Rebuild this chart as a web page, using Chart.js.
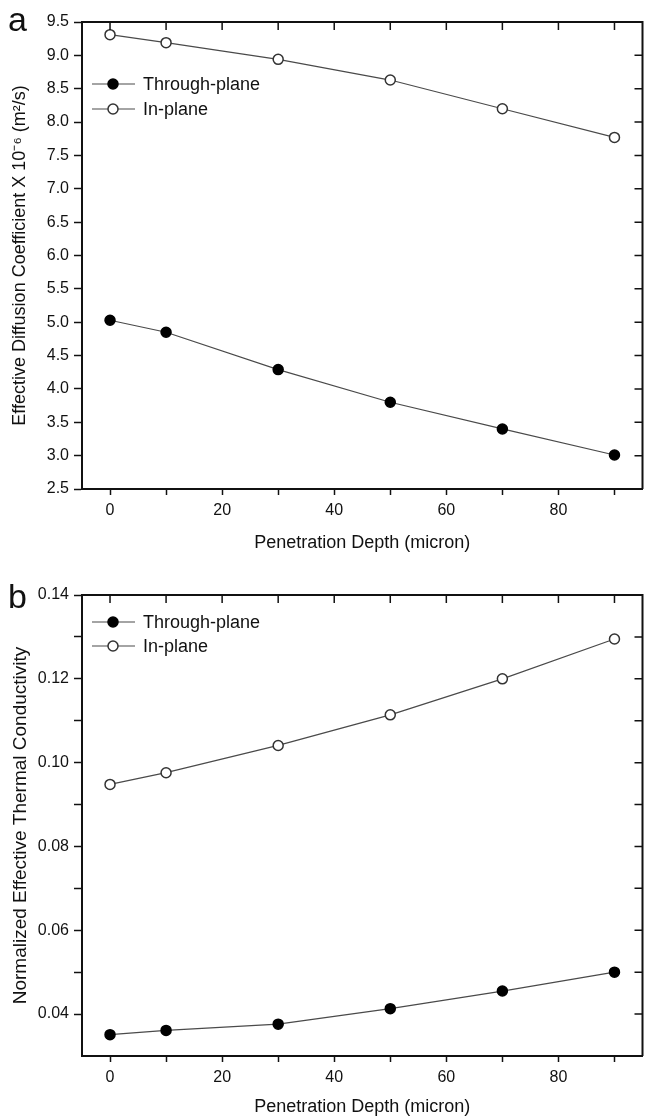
<!DOCTYPE html>
<html>
<head>
<meta charset="utf-8">
<script src="https://cdn.jsdelivr.net/npm/chart.js@4/dist/chart.umd.min.js"></script>
<style>
  body { margin: 0; background: #fff; }
  .panel { position: absolute; left: 0; width: 649px; }
  .tag { position: absolute; left: 8px; font: 34px/34px "Liberation Sans", Arial, sans-serif; color: #111; }
</style>
</head>
<body>
<div class="panel" style="top:0;height:556px"><canvas id="diffusionChart"></canvas></div>
<div class="panel" style="top:556px;height:560px"><canvas id="conductivityChart"></canvas></div>
<div class="tag" style="top:2px">a</div>
<div class="tag" style="top:579px">b</div>
<script>
// penetration depth of the coating, micron
const depth = [0, 10, 30, 50, 70, 90];

// effective diffusion coefficient, x 10^-6 m2/s
const diffThrough = [5.03, 4.85, 4.29, 3.80, 3.40, 3.01];
const diffIn = [9.31, 9.19, 8.94, 8.63, 8.20, 7.77];

// normalized effective thermal conductivity
const condThrough = [0.0351, 0.0361, 0.0376, 0.0413, 0.0455, 0.0500];
const condIn = [0.0948, 0.0976, 0.1041, 0.1114, 0.1200, 0.1295];

// tick positions
const depthTicks = [0, 10, 20, 30, 40, 50, 60, 70, 80, 90];
const diffTicks = [3.0, 3.5, 4.0, 4.5, 5.0, 5.5, 6.0, 6.5, 7.0, 7.5, 8.0, 8.5, 9.0];
const condTicks = [0.04, 0.05, 0.06, 0.07, 0.08, 0.09, 0.10, 0.11, 0.12, 0.13];

const FONT = '"Liberation Sans", Arial, sans-serif';
const INK = '#111';

// closes the frame on top/right and puts inward ticks there
const boxPlugin = {
    id: 'box',
    afterDraw(chart, args, opts) {
        const { ctx, chartArea: a, scales } = chart;
        ctx.save();
        ctx.strokeStyle = INK;
        ctx.lineWidth = 2;
        ctx.beginPath();
        ctx.moveTo(a.left, a.top);
        ctx.lineTo(a.right, a.top);
        ctx.lineTo(a.right, a.bottom);
        ctx.stroke();

        ctx.lineWidth = 1.5;
        ctx.beginPath();
        opts.xTicks.forEach(v => {
            const x = scales.x.getPixelForValue(v);
            ctx.moveTo(x, a.top);
            ctx.lineTo(x, a.top + 8);
        });
        opts.yTicks.forEach(v => {
            const y = scales.y.getPixelForValue(v);
            ctx.moveTo(a.right, y);
            ctx.lineTo(a.right - 8, y);
        });
        ctx.stroke();
        ctx.restore();
    }
};

// legend drawn inside the plot, marker sitting on a short line
const inlineLegend = {
    id: 'inlineLegend',
    afterDatasetsDraw(chart, args, opts) {
        const { ctx, chartArea: a } = chart;
        ctx.save();
        chart.data.datasets.forEach((ds, i) => {
            const y = a.top + opts.rows[i];
            const x0 = a.left + 10;
            ctx.strokeStyle = ds.borderColor;
            ctx.lineWidth = ds.borderWidth;
            ctx.beginPath();
            ctx.moveTo(x0, y);
            ctx.lineTo(x0 + 43, y);
            ctx.stroke();

            ctx.beginPath();
            ctx.arc(x0 + 21, y, ds.pointRadius, 0, Math.PI * 2);
            ctx.fillStyle = ds.pointBackgroundColor;
            ctx.fill();
            ctx.lineWidth = ds.pointBorderWidth;
            ctx.strokeStyle = ds.pointBorderColor;
            ctx.stroke();

            ctx.fillStyle = INK;
            ctx.font = `18px ${FONT}`;
            ctx.textBaseline = 'middle';
            ctx.fillText(ds.label, x0 + 51, y + 1);
        });
        ctx.restore();
    }
};

function series(label, values, filled) {
    return {
        label,
        data: depth.map((d, i) => ({ x: d, y: values[i] })),
        borderColor: '#4a4a4a',
        borderWidth: 1.2,
        pointRadius: 5,
        pointBackgroundColor: filled ? '#000' : '#fff',
        pointBorderColor: filled ? '#000' : '#333',
        pointBorderWidth: 1.5,
        tension: 0
    };
}

function makePanel(id, cfg) {
    return new Chart(document.getElementById(id), {
        type: 'line',
        data: {
            datasets: [
                series('Through-plane', cfg.through, true),
                series('In-plane', cfg.inPlane, false)
            ]
        },
        options: {
            responsive: true,
            maintainAspectRatio: false,
            animation: false,
            layout: { padding: cfg.padding },
            plugins: {
                legend: { display: false },
                tooltip: { enabled: false },
                box: { xTicks: depthTicks, yTicks: cfg.yTicks },
                inlineLegend: { rows: cfg.legendRows }
            },
            scales: {
                x: {
                    type: 'linear',
                    min: -5,
                    max: 95,
                    afterBuildTicks: s => { s.ticks = depthTicks.map(v => ({ value: v })); },
                    afterFit: s => { s.height = cfg.xHeight; },
                    grid: { drawOnChartArea: false, tickLength: 6, tickColor: INK, tickWidth: 1.5 },
                    border: { display: true, color: INK, width: 2 },
                    ticks: {
                        autoSkip: false,
                        maxRotation: 0,
                        padding: 6,
                        color: INK,
                        font: { family: FONT, size: 16 },
                        callback: v => (v % 20 === 0 ? String(v) : '')
                    },
                    title: {
                        display: true,
                        text: 'Penetration Depth (micron)',
                        color: INK,
                        font: { family: FONT, size: 18, lineHeight: 1 },
                        padding: { top: 0, bottom: 0 }
                    }
                },
                y: {
                    type: 'linear',
                    min: cfg.yMin,
                    max: cfg.yMax,
                    afterBuildTicks: s => { s.ticks = cfg.yLeftTicks.map(v => ({ value: v })); },
                    afterFit: s => { s.width = 76; },
                    grid: { drawOnChartArea: false, tickLength: 8, tickColor: INK, tickWidth: 1.5 },
                    border: { display: true, color: INK, width: 2 },
                    ticks: {
                        autoSkip: false,
                        padding: 5,
                        color: INK,
                        font: { family: FONT, size: 16 },
                        callback: cfg.yLabel
                    },
                    title: {
                        display: true,
                        text: cfg.yTitle,
                        color: INK,
                        font: { family: FONT, size: cfg.yTitleSize, lineHeight: 1 },
                        padding: { top: 5, bottom: 0 }
                    }
                }
            }
        },
        plugins: [boxPlugin, inlineLegend]
    });
}

makePanel('diffusionChart', {
    through: diffThrough,
    inPlane: diffIn,
    yMin: 2.5,
    yMax: 9.5,
    yTicks: diffTicks,
    yLeftTicks: [2.5, ...diffTicks, 9.5],
    yLabel: v => v.toFixed(1),
    yTitle: 'Effective Diffusion Coefficient X 10\u207B\u2076 (m\u00B2/s)',
    yTitleSize: 18,
    padding: { left: 6, top: 22, right: 1, bottom: 4 },
    xHeight: 63,
    legendRows: [62, 87]
});

makePanel('conductivityChart', {
    through: condThrough,
    inPlane: condIn,
    yMin: 0.03,
    yMax: 0.14,
    yTicks: condTicks,
    yLeftTicks: [...condTicks, 0.14],
    yLabel: v => (Math.round(v * 100) % 2 === 0 ? v.toFixed(2) : ''),
    yTitle: 'Normalized Effective Thermal Conductivity',
    yTitleSize: 19,
    padding: { left: 6, top: 39, right: 1, bottom: 0 },
    xHeight: 60,
    legendRows: [27, 51]
});
</script>
</body>
</html>
